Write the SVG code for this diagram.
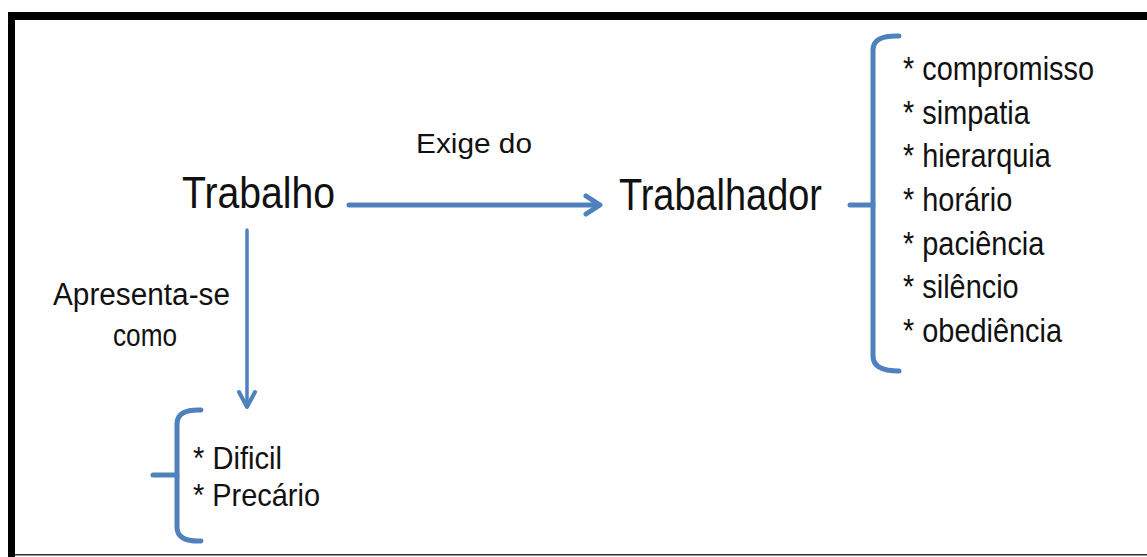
<svg xmlns="http://www.w3.org/2000/svg" width="1147" height="557" viewBox="0 0 1147 557">
<style>
.t{font-family:"Liberation Sans",Arial,sans-serif;fill:#111;}
.c{fill:none;stroke:#4f81bd;stroke-linecap:round;stroke-linejoin:round;}
</style>
<rect x="0" y="0" width="1147" height="557" fill="#fff"/>
<g id="frame">
<rect x="8" y="12" width="1139" height="8" fill="#000"/>
<rect x="8" y="12" width="7" height="545" fill="#000"/>
<rect x="15" y="554" width="1132" height="1.5" fill="#333"/>
</g>
<g id="connectors">
<path class="c" d="M349,205 L598,205" stroke-width="5"/>
<path class="c" d="M586,196 L600,205 L586,214" stroke-width="5"/>
<path class="c" d="M247,230 L247,404" stroke-width="3.5"/>
<path class="c" d="M239,392 L247,407 L255,392" stroke-width="4"/>
<text class="t" x="416" y="153" font-size="28" textLength="116" lengthAdjust="spacingAndGlyphs">Exige do</text>
<text class="t" x="53" y="305" font-size="31" textLength="177" lengthAdjust="spacingAndGlyphs">Apresenta-se</text>
<text class="t" x="113" y="346" font-size="31" textLength="64" lengthAdjust="spacingAndGlyphs">como</text>
</g>
<g id="trabalho">
<text class="t" x="182" y="208" font-size="44" textLength="153" lengthAdjust="spacingAndGlyphs">Trabalho</text>
</g>
<g id="trabalhador">
<text class="t" x="619" y="210" font-size="44" textLength="203" lengthAdjust="spacingAndGlyphs">Trabalhador</text>
</g>
<g id="exigencias">
<path class="c" d="M899,36 Q873,35 873,50 L873,356 Q873,371 899,371" stroke-width="5"/>
<path class="c" d="M850,205 L873,205" stroke-width="5"/>
<g class="t" font-size="34" transform="translate(903,0) scale(0.85,1)">
<text x="0" y="80">* compromisso</text>
<text x="0" y="124">* simpatia</text>
<text x="0" y="167">* hierarquia</text>
<text x="0" y="211">* horário</text>
<text x="0" y="255">* paciência</text>
<text x="0" y="298">* silêncio</text>
<text x="0" y="342">* obediência</text>
</g>
</g>
<g id="caracteristicas">
<path class="c" d="M201,410 Q177,409 177,424 L177,527 Q177,542 201,541" stroke-width="5"/>
<path class="c" d="M153,475 L177,475" stroke-width="5"/>
<text class="t" x="193" y="469" font-size="32" textLength="89" lengthAdjust="spacingAndGlyphs">* Dificil</text>
<text class="t" x="193" y="506" font-size="32" textLength="127" lengthAdjust="spacingAndGlyphs">* Precário</text>
</g>
</svg>
